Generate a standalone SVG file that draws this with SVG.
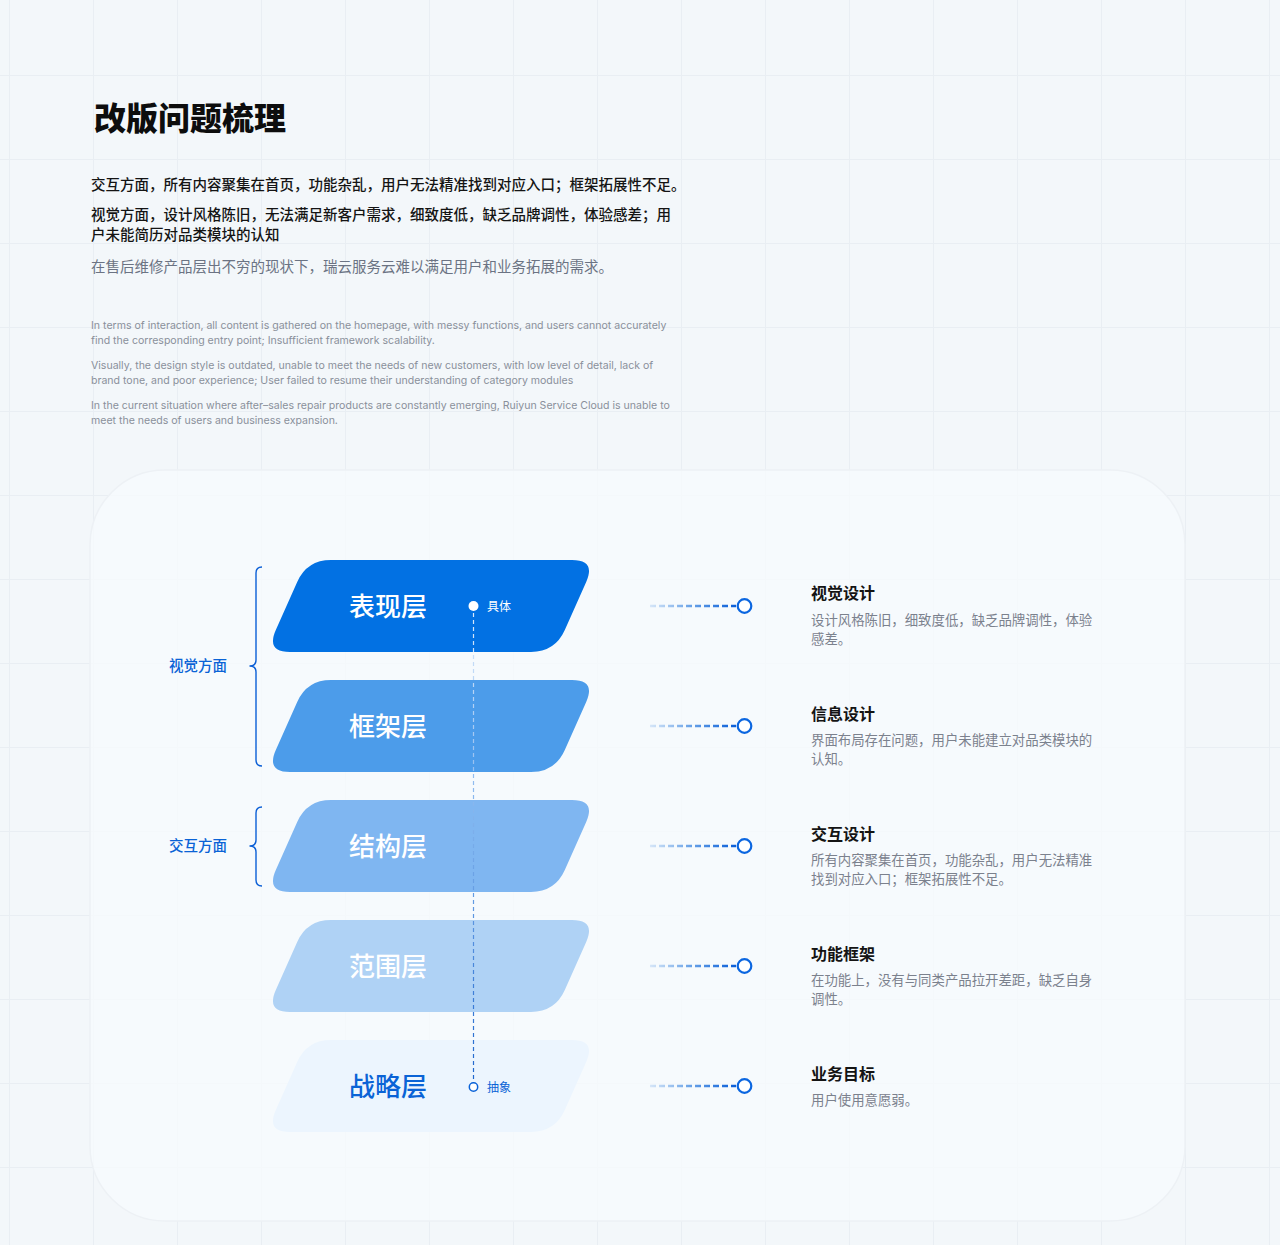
<svg xmlns="http://www.w3.org/2000/svg" xmlns:xlink="http://www.w3.org/1999/xlink" width="1280" height="1245" viewBox="0 0 1280 1245">
<style>
.cn{font-family:"Noto Sans CJK SC","Noto Sans",sans-serif}
.en{font-family:"Inter","Liberation Sans",sans-serif;font-size:10.55px;fill:#8a909b}
.title{font-size:32px;font-weight:900;fill:#0d0d0d}
.lead{font-size:14.5px;font-weight:500;fill:#141414}
.sub{font-size:14.5px;fill:#6b7383}
.side{font-size:14.5px;font-weight:500;fill:#0a63d6}
.lbl{font-size:26px;font-weight:500;fill:#ffffff;text-anchor:middle}
.tag{font-size:12px}
.rt{font-size:16px;font-weight:700;fill:#141414}
.rd{font-size:13.4px;fill:#7b818d}
.brace{fill:none;stroke:#0b5fd6;stroke-width:1.4}
.conn{fill:none;stroke:url(#hg);stroke-width:2.5;stroke-dasharray:6 3}
.ring{fill:#ffffff;stroke:#0b66e0;stroke-width:2.2}
</style>
<defs>
<pattern id="grid" x="9" y="75" width="84" height="84" patternUnits="userSpaceOnUse">
<path d="M0,0 H84 M0,0 V84" stroke="#e9eef3" stroke-width="2" fill="none"/>
</pattern>
<path id="pg" d="M331,0 L572,0 Q596,0 586.2,21.9 L564.8,70.1 Q555,92 531,92 L290,92 Q266,92 275.8,70.1 L297.2,21.9 Q307,0 331,0 Z"/>
<linearGradient id="hg" gradientUnits="userSpaceOnUse" x1="650" y1="0" x2="735" y2="0">
<stop offset="0" stop-color="#d6e6f8"/>
<stop offset="0.45" stop-color="#6fa6e8"/>
<stop offset="1" stop-color="#0a5fd9"/>
</linearGradient>
<linearGradient id="vg" gradientUnits="userSpaceOnUse" x1="0" y1="606" x2="0" y2="1087">
<stop offset="0" stop-color="#dceafb"/>
<stop offset="0.45" stop-color="#7fb1ec"/>
<stop offset="1" stop-color="#1c64cc"/>
</linearGradient>
</defs>
<rect width="1280" height="1245" fill="#f3f7fa"/>
<rect width="1280" height="1245" fill="url(#grid)"/>
<rect x="90" y="470" width="1095" height="751" rx="75" fill="#f7fbfd" fill-opacity="0.75" stroke="#edf1f5" stroke-width="1.5"/>

<g id="header">
<text class="cn title" x="94" y="130">改版问题梳理</text>
<text class="cn lead" x="91" y="190">交互方面，所有内容聚集在首页，功能杂乱，用户无法精准找到对应入口；框架拓展性不足。</text>
<text class="cn lead" x="91" y="220">视觉方面，设计风格陈旧，无法满足新客户需求，细致度低，缺乏品牌调性，体验感差；用</text>
<text class="cn lead" x="91" y="240">户未能简历对品类模块的认知</text>
<text class="cn sub" x="91" y="272">在售后维修产品层出不穷的现状下，瑞云服务云难以满足用户和业务拓展的需求。</text>
<text class="en" x="91" y="329">In terms of interaction, all content is gathered on the homepage, with messy functions, and users cannot accurately</text>
<text class="en" x="91" y="344">find the corresponding entry point; Insufficient framework scalability.</text>
<text class="en" x="91" y="369">Visually, the design style is outdated, unable to meet the needs of new customers, with low level of detail, lack of</text>
<text class="en" x="91" y="384">brand tone, and poor experience; User failed to resume their understanding of category modules</text>
<text class="en" x="91" y="409">In the current situation where after–sales repair products are constantly emerging, Ruiyun Service Cloud is unable to</text>
<text class="en" x="91" y="424">meet the needs of users and business expansion.</text>
</g>

<g id="group-visual">
<path class="brace" d="M262,567 Q256,567 256,573 L256,660 Q256,666 249.5,666 Q256,666 256,672 L256,760 Q256,766 262,766"/>
<text class="cn side" x="169" y="671">视觉方面</text>
</g>
<g id="group-interaction">
<path class="brace" d="M262,807 Q256,807 256,813 L256,840 Q256,846 249.5,846 Q256,846 256,852 L256,880 Q256,886 262,886"/>
<text class="cn side" x="169" y="851">交互方面</text>
</g>

<g id="layer-1">
<use href="#pg" y="560" fill="#0271e3"/>
<text class="cn lbl" x="388" y="616">表现层</text>
</g>
<g id="layer-2">
<use href="#pg" y="680" fill="#4c9cea"/>
<text class="cn lbl" x="388" y="736">框架层</text>
</g>
<g id="layer-3">
<use href="#pg" y="800" fill="#7fb6f1"/>
<text class="cn lbl" x="388" y="856">结构层</text>
</g>
<g id="layer-4">
<use href="#pg" y="920" fill="#afd2f5"/>
<text class="cn lbl" x="388" y="976">范围层</text>
</g>
<g id="layer-5">
<use href="#pg" y="1040" fill="#ecf5fe"/>
<text class="cn lbl" x="388" y="1096" style="fill:#0a63d6">战略层</text>
</g>

<g id="connectors">
<line x1="473.5" y1="606" x2="473.5" y2="1087" stroke="url(#vg)" stroke-width="1.2" stroke-dasharray="4 3"/>
<line class="conn" x1="650" y1="606" x2="736" y2="606"/>
<line class="conn" x1="650" y1="726" x2="736" y2="726"/>
<line class="conn" x1="650" y1="846" x2="736" y2="846"/>
<line class="conn" x1="650" y1="966" x2="736" y2="966"/>
<line class="conn" x1="650" y1="1086" x2="736" y2="1086"/>
<circle class="ring" cx="744.5" cy="606" r="6.8"/>
<circle class="ring" cx="744.5" cy="726" r="6.8"/>
<circle class="ring" cx="744.5" cy="846" r="6.8"/>
<circle class="ring" cx="744.5" cy="966" r="6.8"/>
<circle class="ring" cx="744.5" cy="1086" r="6.8"/>
</g>

<g id="axis-top">
<circle cx="473.5" cy="606" r="5" fill="#ffffff"/>
<text class="cn tag" x="487" y="611" fill="#ffffff">具体</text>
</g>
<g id="axis-bottom">
<circle cx="473.5" cy="1087" r="4.2" fill="#ffffff" stroke="#0b63d8" stroke-width="1.5"/>
<text class="cn tag" x="487" y="1092" fill="#0a63d6">抽象</text>
</g>

<g id="item-1">
<text class="cn rt" x="811" y="599">视觉设计</text>
<text class="cn rd" x="811" y="625">设计风格陈旧，细致度低，缺乏品牌调性，体验</text>
<text class="cn rd" x="811" y="644">感差。</text>
</g>
<g id="item-2">
<text class="cn rt" x="811" y="720">信息设计</text>
<text class="cn rd" x="811" y="745">界面布局存在问题，用户未能建立对品类模块的</text>
<text class="cn rd" x="811" y="764">认知。</text>
</g>
<g id="item-3">
<text class="cn rt" x="811" y="840">交互设计</text>
<text class="cn rd" x="811" y="865">所有内容聚集在首页，功能杂乱，用户无法精准</text>
<text class="cn rd" x="811" y="884">找到对应入口；框架拓展性不足。</text>
</g>
<g id="item-4">
<text class="cn rt" x="811" y="960">功能框架</text>
<text class="cn rd" x="811" y="985">在功能上，没有与同类产品拉开差距，缺乏自身</text>
<text class="cn rd" x="811" y="1004">调性。</text>
</g>
<g id="item-5">
<text class="cn rt" x="811" y="1080">业务目标</text>
<text class="cn rd" x="811" y="1105">用户使用意愿弱。</text>
</g>
</svg>
